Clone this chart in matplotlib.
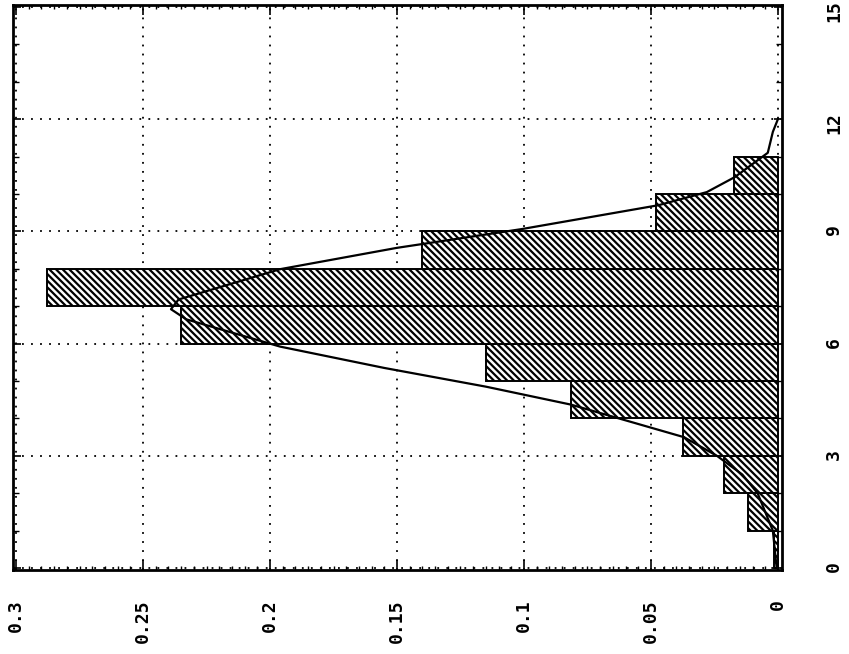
import numpy as np
import matplotlib
matplotlib.use("Agg")
import matplotlib.pyplot as plt
from matplotlib.ticker import MultipleLocator, FixedLocator

# Histogram: bins [k, k+1), relative frequencies
bin_starts = [0, 1, 2, 3, 4, 5, 6, 7, 8, 9, 10]
freqs = [0.0015, 0.0118, 0.0213, 0.0374, 0.0815, 0.115, 0.235, 0.288, 0.140, 0.048, 0.0173]

# Fitted density curve
curve_x = [0.0, 1.0, 2.0, 2.5, 3.0, 3.5, 4.37, 4.85, 5.35, 5.92, 6.65, 6.92, 7.18,
           7.99, 8.56, 9.06, 9.7, 10.05, 10.45, 11.1, 11.66, 12.0]
curve_y = [0.0005, 0.002, 0.008, 0.014, 0.024, 0.037, 0.0815, 0.115, 0.155, 0.196,
           0.233, 0.239, 0.236, 0.196, 0.150, 0.101, 0.047, 0.028, 0.017, 0.004,
           0.002, 0.0]

val_ticks = [0, 0.05, 0.1, 0.15, 0.2, 0.25, 0.3]
val_labels = ["0", "0.05", "0.1", "0.15", "0.2", "0.25", "0.3"]
pos_ticks = [0, 3, 6, 9, 12, 15]
pos_labels = ["0", "3", "6", "9", "12", "15"]

plt.rcParams['hatch.linewidth'] = 1.6
plt.rcParams['font.family'] = ['DejaVu Sans Mono']
plt.rcParams['font.weight'] = 'bold'

fig = plt.figure(figsize=(8.49, 6.54), dpi=100)
ax = fig.add_axes([13/849, 1 - 570/654, (782 - 13)/849, (570 - 5)/654])

ax.grid(True, which='major', linestyle=(0, (1, 4)), color='black', linewidth=1.3, zorder=0)
ax.set_axisbelow(True)

ax.barh(bin_starts, freqs, height=1, align='edge', color='white',
        edgecolor='black', hatch='\\\\\\\\\\', linewidth=1.4, zorder=2)
ax.plot(curve_y, curve_x, color='black', linewidth=1.6, zorder=3)

ax.set_xlim(0.3012, -0.0016)
ax.set_ylim(-0.05, 15.05)

ax.xaxis.set_major_locator(FixedLocator(val_ticks))
ax.set_xticklabels(val_labels)
ax.xaxis.set_minor_locator(MultipleLocator(0.005))
ax.yaxis.set_major_locator(FixedLocator(pos_ticks))
ax.set_yticklabels(pos_labels)
ax.yaxis.set_minor_locator(MultipleLocator(1))

ax.tick_params(axis='x', which='both', direction='in', top=True, bottom=True,
               labelrotation=90, pad=21, labelsize=13)
ax.tick_params(axis='x', which='major', length=7, width=1.2)
ax.tick_params(axis='x', which='minor', length=3, width=1)
ax.tick_params(axis='y', which='both', direction='in', left=True, right=True,
               labelleft=False, labelright=True, labelrotation=90, pad=31, labelsize=13)
ax.tick_params(axis='y', which='major', length=6, width=1.2)
ax.tick_params(axis='y', which='minor', length=4, width=1)

for s in ax.spines.values():
    s.set_linewidth(2)

fig.savefig("out.png", dpi=100)
